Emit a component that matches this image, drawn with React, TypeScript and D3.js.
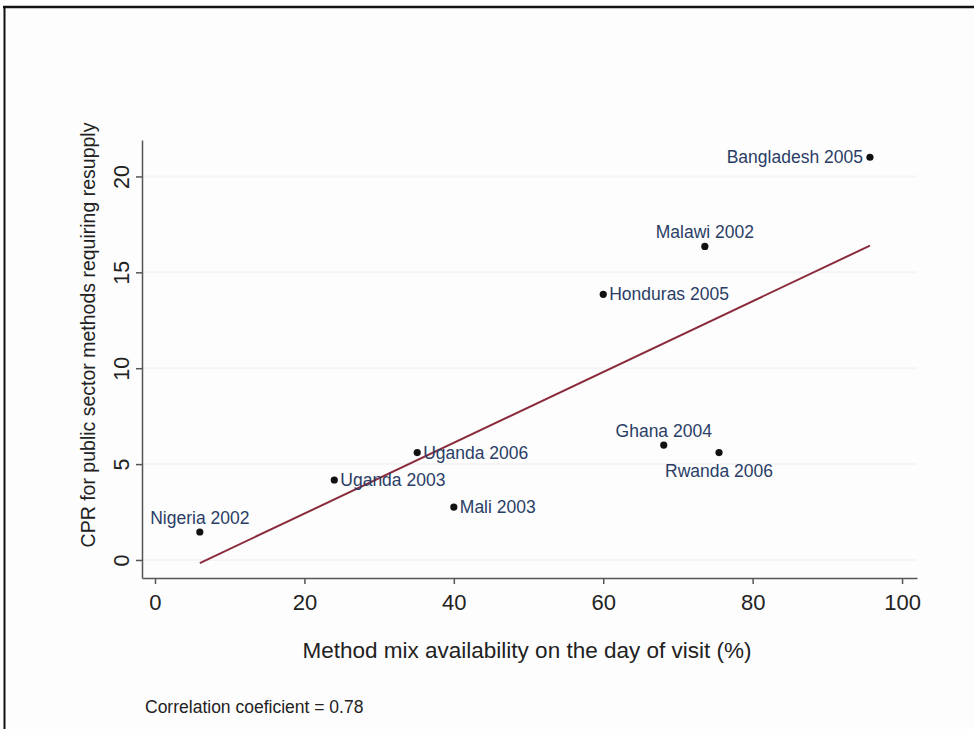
import React, { useEffect, useRef } from 'react';
import * as d3 from 'd3';

// survey labels and values
const surveys = [
  'Nigeria 2002',
  'Uganda 2003',
  'Uganda 2006',
  'Mali 2003',
  'Honduras 2005',
  'Malawi 2002',
  'Bangladesh 2005',
  'Ghana 2004',
  'Rwanda 2006',
];
const methodMix = [6.0, 24.0, 35.1, 40.0, 60.0, 73.6, 95.7, 68.1, 75.5];
const cprResupply = [1.46, 4.17, 5.6, 2.76, 13.85, 16.35, 21.0, 5.99, 5.6];
// where each label sits relative to its marker
const labelPos = ['top', 'right', 'right', 'right', 'right', 'top', 'left', 'top', 'bottom'];

const xTicks = [0, 20, 40, 60, 80, 100];
const yTicks = [0, 5, 10, 15, 20];

const App = () => {
  const svgRef = useRef<SVGSVGElement>(null);

  useEffect(() => {
    const width = 974;
    const height = 729;
    const margin = { top: 140, right: 57, bottom: 151, left: 142 };

    const svg = d3.select(svgRef.current);
    svg.selectAll('*').remove();

    const font = 'Arial, "Liberation Sans", Helvetica, sans-serif';

    // page background and frame
    svg.append('rect').attr('width', width).attr('height', height).attr('fill', '#fdfdfd');
    svg.append('line').attr('x1', 3).attr('x2', width).attr('y1', 7).attr('y2', 7)
      .attr('stroke', '#111').attr('stroke-width', 2.5);
    svg.append('line').attr('x1', 4.5).attr('x2', 4.5).attr('y1', 6).attr('y2', height)
      .attr('stroke', '#111').attr('stroke-width', 2);

    const xScale = d3.scaleLinear().domain([-1.74, 102]).range([margin.left, width - margin.right]);
    const yScale = d3.scaleLinear().domain([-0.94, 21.9]).range([height - margin.bottom, margin.top]);

    // faint grid
    svg.append('g')
      .selectAll('line')
      .data(yTicks)
      .enter()
      .append('line')
      .attr('x1', margin.left + 1)
      .attr('x2', width - margin.right)
      .attr('y1', (d) => yScale(d))
      .attr('y2', (d) => yScale(d))
      .attr('stroke', '#f5f5f5')
      .attr('stroke-width', 2);

    // Y axis
    const yAxis = svg.append('g')
      .attr('transform', `translate(${margin.left},0)`)
      .call(d3.axisLeft(yScale).tickValues(yTicks).tickSize(6).tickPadding(10).tickSizeOuter(0));
    yAxis.select('.domain').attr('stroke', '#555').attr('stroke-width', 1.5);
    yAxis.selectAll('.tick line').attr('stroke', '#555').attr('stroke-width', 1.5);
    yAxis.selectAll('.tick text')
      .attr('font-family', font)
      .attr('font-size', 21.5)
      .attr('fill', '#222')
      .attr('x', 0)
      .attr('y', 0)
      .attr('dy', 0)
      .attr('text-anchor', 'middle')
      .attr('dominant-baseline', 'central')
      .attr('transform', 'translate(-20,0) rotate(-90)');

    // X axis
    const xAxis = svg.append('g')
      .attr('transform', `translate(0,${height - margin.bottom})`)
      .call(d3.axisBottom(xScale).tickValues(xTicks).tickSize(6).tickPadding(10).tickSizeOuter(0));
    xAxis.select('.domain').attr('stroke', '#555').attr('stroke-width', 1.5);
    xAxis.selectAll('.tick line').attr('stroke', '#555').attr('stroke-width', 1.5);
    xAxis.selectAll('.tick text')
      .attr('font-family', font)
      .attr('font-size', 22)
      .attr('fill', '#222');

    // axis titles
    svg.append('text')
      .attr('transform', `translate(95,${(margin.top + height - margin.bottom) / 2 - 24}) rotate(-90)`)
      .attr('text-anchor', 'middle')
      .attr('font-family', font)
      .attr('font-size', 19.5)
      .attr('fill', '#222')
      .text('CPR for public sector methods requiring resupply');

    svg.append('text')
      .attr('x', 527)
      .attr('y', 658)
      .attr('text-anchor', 'middle')
      .attr('font-family', font)
      .attr('font-size', 22.5)
      .attr('fill', '#222')
      .text('Method mix availability on the day of visit (%)');

    svg.append('text')
      .attr('x', 145)
      .attr('y', 713)
      .attr('font-family', font)
      .attr('font-size', 17.5)
      .attr('fill', '#222')
      .text('Correlation coeficient = 0.78');

    // linear fit over the observed range
    const points = surveys.map((s, i) => ({ name: s, x: methodMix[i], y: cprResupply[i], pos: labelPos[i] }));
    const mx = d3.mean(methodMix) as number;
    const my = d3.mean(cprResupply) as number;
    const sxy = d3.sum(points, (d) => (d.x - mx) * (d.y - my));
    const sxx = d3.sum(points, (d) => (d.x - mx) ** 2);
    const slope = sxy / sxx;
    const intercept = my - slope * mx;
    const [minX, maxX] = d3.extent(methodMix) as [number, number];
    const fit = [minX, maxX].map((x) => [x, intercept + slope * x] as [number, number]);

    svg.append('path')
      .attr('d', d3.line().x((d) => xScale(d[0])).y((d) => yScale(d[1]))(fit))
      .attr('fill', 'none')
      .attr('stroke', '#8a2b3c')
      .attr('stroke-width', 2);

    // markers
    svg.append('g')
      .selectAll('circle')
      .data(points)
      .enter()
      .append('circle')
      .attr('cx', (d) => xScale(d.x))
      .attr('cy', (d) => yScale(d.y))
      .attr('r', 3.6)
      .attr('fill', '#111');

    // marker labels
    svg.append('g')
      .selectAll('text')
      .data(points)
      .enter()
      .append('text')
      .attr('font-family', font)
      .attr('font-size', 17.5)
      .attr('fill', '#2a3d66')
      .attr('x', (d) => {
        const px = xScale(d.x);
        if (d.pos === 'right') return px + 6;
        if (d.pos === 'left') return px - 7;
        return px;
      })
      .attr('y', (d) => {
        const py = yScale(d.y);
        if (d.pos === 'top') return py - 8;
        if (d.pos === 'bottom') return py + 24;
        return py + 6;
      })
      .attr('text-anchor', (d) => (d.pos === 'right' ? 'start' : d.pos === 'left' ? 'end' : 'middle'))
      .text((d) => d.name);
  }, []);

  return (
    <svg
      ref={svgRef}
      width={974}
      height={729}
      style={{ position: 'absolute', left: 0, top: 0, display: 'block' }}
    ></svg>
  );
};

export default App;
